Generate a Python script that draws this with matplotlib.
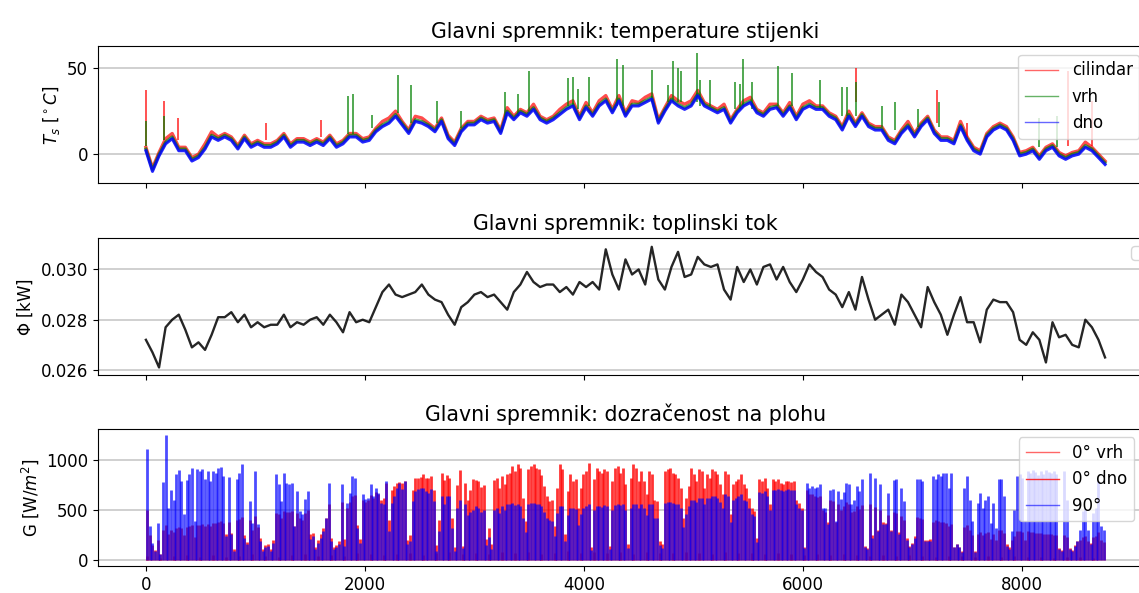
import numpy as np
import matplotlib
matplotlib.use("Agg")
import matplotlib.pyplot as plt
from matplotlib.lines import Line2D

plt.rcParams['font.size'] = 12

t_hours = np.arange(0, 8761, 60)

T_dno = [2, -10, -1, 6, 9, 2, 2, -4, -2, 3,
         10, 8, 10, 8, 3, 9, 4, 6, 4, 4,
         6, 10, 4, 7, 7, 5, 7, 5, 9, 4,
         6, 10, 10, 7, 8, 13, 16, 18, 22, 17,
         12, 19, 18, 16, 13, 19, 9, 5, 13, 17,
         17, 20, 18, 19, 12, 24, 20, 24, 22, 26,
         20, 18, 20, 23, 26, 28, 20, 27, 22, 28,
         31, 24, 31, 22, 28, 28, 30, 32, 18, 25,
         31, 28, 26, 28, 34, 28, 26, 24, 26, 18,
         24, 28, 30, 24, 22, 26, 27, 22, 27, 20,
         26, 28, 26, 26, 22, 20, 14, 22, 16, 22,
         16, 14, 14, 8, 6, 12, 16, 10, 16, 20,
         12, 8, 8, 6, 16, 8, 2, 0, 10, 14,
         16, 14, 8, -1, 0, 2, -3, 2, 4, -1,
         -3, -1, 0, 4, 2, -2, -6]

T_cilindar = [4, -8, 1, 9, 12, 4, 4, -2, 0, 6,
              13, 10, 12, 10, 5, 11, 6, 8, 6, 6,
              8, 12, 6, 9, 9, 7, 9, 7, 11, 6,
              8, 12, 12, 9, 10, 15, 19, 21, 25, 19,
              14, 22, 21, 18, 15, 21, 11, 7, 15, 19,
              19, 22, 20, 21, 14, 27, 22, 26, 24, 29,
              22, 20, 22, 26, 29, 31, 22, 30, 24, 31,
              34, 26, 34, 24, 31, 30, 33, 35, 20, 27,
              34, 31, 29, 31, 37, 30, 28, 26, 29, 20,
              26, 31, 33, 26, 24, 29, 29, 24, 30, 22,
              29, 31, 28, 28, 24, 22, 16, 25, 18, 24,
              18, 16, 16, 10, 8, 14, 19, 12, 18, 22,
              14, 10, 10, 8, 19, 10, 4, 2, 12, 16,
              18, 16, 10, 1, 2, 4, -1, 4, 6, 1,
              -1, 1, 2, 7, 4, 0, -4]

T_vrh = [3, -9, 0, 7, 10, 3, 3, -3, -1, 4,
         11, 9, 11, 9, 4, 10, 5, 7, 5, 5,
         7, 11, 5, 8, 8, 6, 8, 6, 10, 5,
         7, 11, 11, 8, 9, 14, 17, 19, 23, 18,
         13, 20, 19, 17, 14, 20, 10, 6, 14, 18,
         18, 21, 19, 20, 13, 25, 21, 25, 23, 27,
         21, 19, 21, 24, 27, 29, 21, 28, 23, 29,
         32, 25, 32, 23, 29, 29, 31, 33, 19, 26,
         32, 29, 27, 29, 35, 29, 27, 25, 27, 19,
         25, 29, 31, 25, 23, 27, 28, 23, 28, 21,
         27, 29, 27, 27, 23, 21, 15, 23, 17, 23,
         17, 15, 15, 9, 7, 13, 17, 11, 17, 21,
         13, 9, 9, 7, 17, 9, 3, 1, 11, 15,
         17, 15, 9, 0, 1, 3, -2, 3, 5, 0,
         -2, 0, 1, 5, 3, -1, -5]

# short single-hour peaks: hour, level below, peak value
vrh_spike_h = [0, 164, 1847, 1893, 2061, 2298, 2420, 2655, 2874, 3279, 3400, 3498,
               3851, 3903, 3948, 4049, 4304, 4359, 4618, 4770, 4810, 4861, 4886,
               5029, 5065, 5151, 5379, 5425, 5455, 5531, 5769, 5897, 6155, 6362,
               6399, 6484, 6719, 6840, 7053, 7245, 8155, 8320]
vrh_spike_lo = [5, 8, 12, 12, 15, 24, 18, 18, 15, 20, 22, 25,
                28, 28, 26, 28, 28, 28, 30, 30, 30, 30, 30,
                30, 28, 28, 26, 26, 28, 26, 28, 28, 26, 22,
                22, 22, 16, 14, 16, 16, 4, 4]
vrh_spike_hi = [19, 22, 34, 35, 23, 46, 40, 31, 25, 36, 35, 48,
                44, 45, 38, 45, 55, 52, 49, 40, 54, 50, 48,
                59, 43, 43, 42, 41, 55, 42, 51, 47, 43, 39,
                39, 42, 28, 30, 26, 30, 21, 22]
cil_spike_h = [0, 164, 295, 1100, 1600, 6484, 7227, 7495, 8420, 8640]
cil_spike_lo = [5, 8, 8, 8, 10, 30, 18, 10, 5, 5]
cil_spike_hi = [37, 31, 21, 18, 20, 50, 37, 18, 48, 31]

Phi = [0.0272, 0.0267, 0.0261, 0.0277, 0.0280, 0.0282, 0.0276, 0.0269, 0.0271, 0.0268,
       0.0274, 0.0281, 0.0281, 0.0283, 0.0279, 0.0282, 0.0277, 0.0279, 0.0277, 0.0278,
       0.0278, 0.0282, 0.0277, 0.0279, 0.0278, 0.0280, 0.0281, 0.0278, 0.0282, 0.0279,
       0.0275, 0.0283, 0.0279, 0.0280, 0.0279, 0.0285, 0.0291, 0.0294, 0.0290, 0.0289,
       0.0290, 0.0291, 0.0294, 0.0290, 0.0288, 0.0287, 0.0282, 0.0278, 0.0285, 0.0287,
       0.0290, 0.0291, 0.0289, 0.0290, 0.0287, 0.0284, 0.0291, 0.0294, 0.0299, 0.0295,
       0.0293, 0.0294, 0.0294, 0.0291, 0.0293, 0.0290, 0.0295, 0.0293, 0.0295, 0.0292,
       0.0308, 0.0298, 0.0292, 0.0304, 0.0298, 0.0300, 0.0294, 0.0309, 0.0296, 0.0292,
       0.0301, 0.0307, 0.0297, 0.0298, 0.0305, 0.0302, 0.0301, 0.0302, 0.0292, 0.0288,
       0.0301, 0.0295, 0.0300, 0.0294, 0.0301, 0.0302, 0.0296, 0.0301, 0.0295, 0.0291,
       0.0296, 0.0302, 0.0299, 0.0297, 0.0292, 0.0290, 0.0285, 0.0291, 0.0284, 0.0297,
       0.0288, 0.0280, 0.0282, 0.0284, 0.0278, 0.0290, 0.0287, 0.0282, 0.0277, 0.0293,
       0.0287, 0.0282, 0.0274, 0.0282, 0.0289, 0.0279, 0.0279, 0.0271, 0.0284, 0.0288,
       0.0287, 0.0287, 0.0283, 0.0272, 0.0270, 0.0275, 0.0272, 0.0263, 0.0279, 0.0273,
       0.0274, 0.0270, 0.0269, 0.0280, 0.0277, 0.0272, 0.0265]

# daily irradiance peaks, one value per day of the year
day_hours = np.arange(365) * 24 + 12

G_90 = [1110, 340, 170, 90, 370, 60, 780, 1250, 520, 700,
        600, 860, 900, 790, 460, 800, 860, 920, 390, 907,
        890, 907, 807, 890, 790, 890, 873, 923, 930, 840,
        240, 830, 257, 90, 807, 867, 957, 223, 157, 590,
        373, 890, 357, 190, 90, 123, 140, 90, 173, 857,
        757, 590, 873, 773, 757, 773, 340, 690, 490, 457,
        607, 690, 207, 240, 107, 173, 223, 290, 423, 773,
        190, 107, 123, 157, 757, 140, 573, 673, 840, 823,
        323, 173, 657, 607, 623, 757, 640, 723, 673, 573,
        557, 790, 290, 573, 640, 723, 773, 707, 790, 157,
        190, 590, 690, 707, 723, 723, 690, 673, 707, 590,
        90, 290, 640, 557, 640, 640, 323, 90, 523, 600,
        120, 560, 450, 480, 500, 540, 520, 480, 500, 150,
        230, 110, 500, 520, 470, 540, 500, 560, 560, 570,
        550, 560, 540, 420, 280, 560, 570, 570, 560, 560,
        540, 480, 420, 400, 390, 240, 470, 540, 540, 190,
        450, 520, 520, 510, 350, 460, 520, 540, 560, 100,
        500, 540, 540, 530, 550, 540, 110, 500, 550, 560,
        550, 560, 500, 120, 520, 560, 560, 520, 560, 520,
        450, 560, 560, 420, 420, 150, 120, 570, 580, 580,
        570, 560, 560, 520, 330, 460, 540, 600, 600, 580,
        620, 620, 560, 620, 620, 640, 640, 620, 580, 520,
        660, 640, 380, 600, 620, 640, 660, 600, 590, 520,
        460, 440, 180, 680, 670, 690, 640, 500, 700, 700,
        710, 700, 690, 700, 710, 700, 700, 560, 520, 500,
        120, 773, 723, 740, 723, 730, 757, 523, 523, 357,
        700, 707, 390, 690, 607, 680, 773, 757, 557, 600,
        740, 690, 807, 123, 107, 873, 223, 823, 290, 757,
        357, 357, 673, 290, 800, 807, 257, 723, 590, 200,
        123, 157, 223, 807, 807, 790, 190, 190, 190, 840,
        807, 857, 840, 873, 873, 723, 873, 123, 157, 123,
        73, 723, 840, 600, 390, 73, 573, 673, 523, 600,
        640, 373, 573, 323, 807, 807, 640, 140, 107, 290,
        500, 840, 857, 823, 390, 890, 870, 900, 880, 850,
        890, 860, 900, 880, 870, 890, 860, 107, 90, 890,
        600, 107, 90, 140, 190, 300, 490, 507, 300, 157,
        473, 523, 790, 340, 300]

G_0_vrh = [500, 250, 150, 100, 200, 60, 300, 350, 260, 300,
           280, 320, 330, 320, 250, 330, 340, 350, 230, 350,
           350, 360, 340, 360, 340, 370, 370, 380, 390, 370,
           260, 380, 273, 110, 400, 410, 430, 250, 180, 400,
           300, 440, 330, 220, 110, 150, 160, 110, 200, 470,
           460, 420, 490, 480, 480, 490, 340, 470, 420, 400,
           470, 500, 257, 270, 130, 200, 260, 320, 420, 560,
           223, 130, 150, 190, 580, 207, 520, 580, 640, 650,
           350, 210, 600, 580, 600, 650, 620, 680, 660, 600,
           620, 773, 400, 700, 740, 770, 780, 773, 790, 200,
           250, 700, 823, 823, 830, 857, 820, 820, 840, 700,
           150, 400, 873, 800, 850, 823, 420, 123, 750, 900,
           140, 770, 600, 700, 815, 800, 790, 730, 750, 207,
           320, 157, 800, 823, 723, 840, 757, 857, 873, 940,
           890, 957, 923, 623, 390, 907, 940, 957, 923, 915,
           850, 740, 640, 590, 600, 340, 723, 957, 907, 257,
           690, 857, 790, 807, 523, 723, 860, 890, 973, 123,
           807, 923, 890, 873, 907, 890, 140, 790, 923, 940,
           873, 923, 757, 157, 823, 957, 923, 790, 890, 790,
           657, 890, 857, 600, 590, 190, 157, 890, 907, 923,
           873, 857, 823, 723, 423, 623, 740, 923, 857, 790,
           907, 890, 723, 857, 823, 907, 890, 857, 757, 657,
           890, 857, 457, 757, 790, 807, 857, 757, 723, 623,
           523, 490, 223, 807, 790, 823, 723, 557, 807, 790,
           807, 773, 757, 790, 790, 780, 790, 600, 570, 523,
           130, 700, 660, 660, 640, 630, 640, 500, 480, 380,
           600, 590, 380, 560, 500, 540, 580, 560, 480, 490,
           540, 510, 550, 140, 120, 560, 250, 530, 300, 500,
           380, 370, 450, 300, 480, 470, 280, 440, 400, 220,
           140, 170, 240, 430, 420, 410, 200, 200, 210, 380,
           400, 390, 380, 380, 370, 340, 360, 130, 160, 130,
           90, 330, 350, 300, 250, 90, 260, 280, 250, 270,
           280, 210, 260, 200, 300, 300, 270, 160, 130, 200,
           240, 290, 290, 280, 200, 290, 280, 280, 270, 270,
           270, 260, 260, 260, 260, 250, 250, 120, 100, 250,
           230, 120, 100, 150, 190, 200, 230, 240, 190, 170,
           230, 240, 280, 200, 180]

# bottom face, sampled every 5 days
dno_hours = np.arange(0, 8760, 120) + 12
G_0_dno = [40, 20, 35, 45, 30, 50, 25, 40, 55, 35,
           30, 45, 60, 40, 50, 35, 65, 55, 45, 60,
           70, 50, 65, 75, 60, 70, 55, 80, 65, 75,
           60, 70, 85, 65, 75, 70, 80, 60, 75, 70,
           65, 80, 70, 60, 75, 65, 70, 55, 65, 60,
           50, 60, 45, 55, 50, 40, 45, 35, 50, 40,
           30, 40, 35, 25, 40, 30, 35, 25, 30, 20,
           30, 25, 20]

fig = plt.figure(figsize=(11.39, 5.93), dpi=100)
ax1 = fig.add_axes([0.0860, 0.6906, 0.9263, 0.2310])
ax2 = fig.add_axes([0.0860, 0.3676, 0.9263, 0.2310], sharex=ax1)
ax3 = fig.add_axes([0.0860, 0.0455, 0.9263, 0.2310], sharex=ax1)

# top: wall temperatures
ax1.plot(t_hours, T_cilindar, color='r', lw=2.4, alpha=0.7)
ax1.plot(t_hours, T_vrh, color='g', lw=2.2, alpha=0.7)
ax1.vlines(cil_spike_h, cil_spike_lo, cil_spike_hi, color='r', lw=1.2, alpha=0.8)
ax1.vlines(vrh_spike_h, vrh_spike_lo, vrh_spike_hi, color='g', lw=1.2, alpha=0.8)
ax1.plot(t_hours, T_dno, color='b', lw=2.2, alpha=0.85)
ax1.set_ylim(-17, 62.5)
ax1.set_yticks([0, 50])
ax1.set_ylabel(r'$T_s$ [$^\circ C$]')
ax1.set_title('Glavni spremnik: temperature stijenki', fontsize=14.8)
handles1 = [Line2D([], [], color='r', lw=1, alpha=0.6),
            Line2D([], [], color='g', lw=1, alpha=0.6),
            Line2D([], [], color='b', lw=1, alpha=0.6)]
ax1.legend(handles1, ['cilindar', 'vrh', 'dno'], loc='upper right',
           bbox_to_anchor=(0.995, 1.0))

# middle: heat flux
ax2.plot(t_hours, Phi, color='k', lw=1.7, alpha=0.85)
ax2.set_ylim(0.0258, 0.03125)
ax2.set_yticks([0.026, 0.028, 0.030])
ax2.set_ylabel(r'$\Phi$ [kW]')
ax2.set_title('Glavni spremnik: toplinski tok', fontsize=14.8)
ax2.legend(loc='upper right')

# bottom: irradiance
ax3.vlines(day_hours, 0, G_0_vrh, color='r', lw=2.0, alpha=0.8)
ax3.vlines(dno_hours, 0, G_0_dno, color='r', lw=2.0, alpha=0.8)
ax3.vlines(day_hours, 0, G_90, color='b', lw=2.0, alpha=0.7)
ax3.set_ylim(-63, 1312)
ax3.set_yticks([0, 500, 1000])
ax3.set_ylabel(r'G [W/$m^2$]')
ax3.set_title('Glavni spremnik: dozračenost na plohu', fontsize=14.8)
handles3 = [Line2D([], [], color='r', lw=1, alpha=0.6),
            Line2D([], [], color='r', lw=1, alpha=0.8),
            Line2D([], [], color='b', lw=1, alpha=0.6)]
ax3.legend(handles3, ['0° vrh', '0° dno', '90°'], loc='upper right',
           bbox_to_anchor=(0.99, 1.0))

for ax in (ax1, ax2, ax3):
    ax.grid(axis='y', color='#c8c8c8', lw=1.2)
    ax.set_axisbelow(True)
ax1.set_xlim(-438, 9198)
ax1.set_xticks([0, 2000, 4000, 6000, 8000])
plt.setp(ax1.get_xticklabels(), visible=False)
plt.setp(ax2.get_xticklabels(), visible=False)

fig.savefig('out.png', dpi=100)
